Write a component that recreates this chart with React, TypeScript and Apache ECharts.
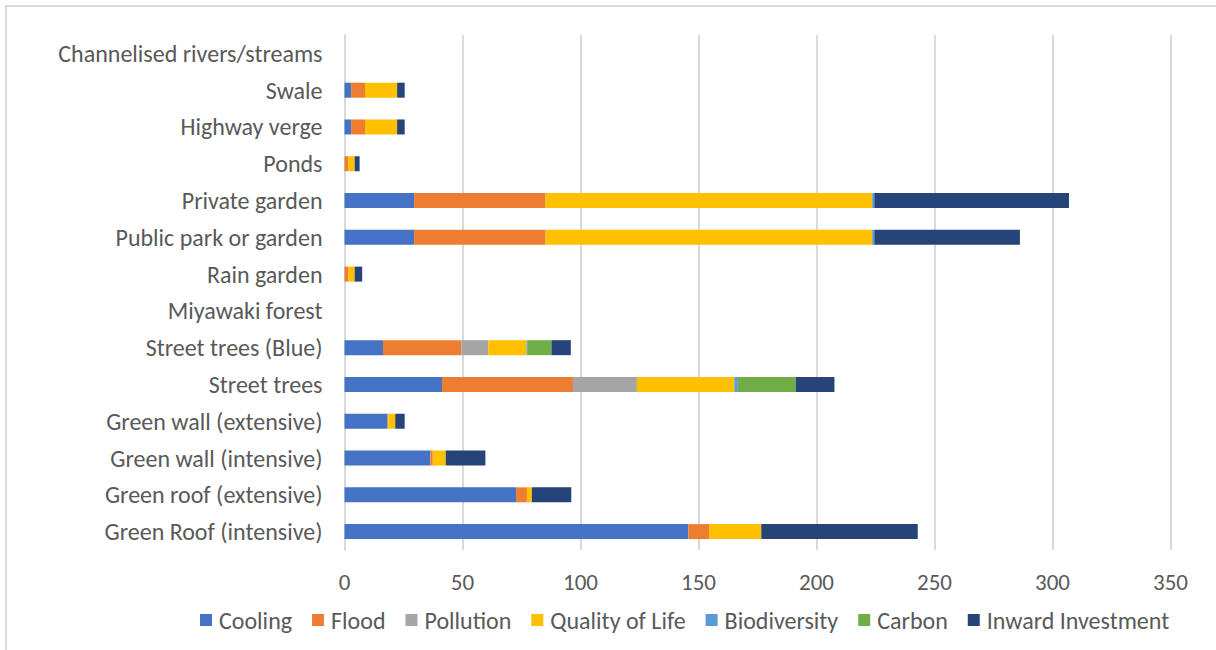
import React, { useEffect, useRef } from "react";
import * as echarts from "echarts";

// Categories listed bottom-to-top as they appear on the value axis chart
const categories = [
  "Green Roof (intensive)",
  "Green roof (extensive)",
  "Green wall (intensive)",
  "Green wall (extensive)",
  "Street trees",
  "Street trees (Blue)",
  "Miyawaki forest",
  "Rain garden",
  "Public park or garden",
  "Private garden",
  "Ponds",
  "Highway verge",
  "Swale",
  "Channelised rivers/streams",
];

const cooling = [145.7, 72.7, 36.4, 18.2, 41.3, 16.3, 0, 0, 29.5, 29.5, 0, 2.8, 2.8, 0];
const flood = [8.8, 4.6, 1.0, 0.4, 55.5, 33.2, 0, 1.6, 55.7, 55.7, 1.6, 5.9, 5.9, 0];
const pollution = [0, 0, 0, 0, 27.1, 11.4, 0, 0, 0, 0, 0, 0, 0, 0];
const qualityOfLife = [22.1, 2.1, 5.5, 2.9, 41.3, 16.2, 0, 2.7, 138.4, 138.4, 2.7, 13.6, 13.6, 0];
const biodiversity = [0, 0, 0, 0, 1.5, 0.3, 0, 0, 0.9, 0.9, 0, 0, 0, 0];
const carbon = [0, 0, 0, 0, 24.5, 10.3, 0, 0, 0, 0, 0, 0, 0, 0];
const inwardInvestment = [66.3, 16.7, 16.8, 4.0, 16.4, 8.2, 0, 3.2, 61.7, 82.5, 2.1, 3.2, 3.2, 0];

const seriesDefs = [
  { name: "Cooling", data: cooling, color: "#4472C4" },
  { name: "Flood", data: flood, color: "#ED7D31" },
  { name: "Pollution", data: pollution, color: "#A5A5A5" },
  { name: "Quality of Life", data: qualityOfLife, color: "#FFC000" },
  { name: "Biodiversity", data: biodiversity, color: "#5B9BD5" },
  { name: "Carbon", data: carbon, color: "#70AD47" },
  { name: "Inward Investment", data: inwardInvestment, color: "#264478" },
];

const xTicks = { min: 0, max: 350, interval: 50 };

const FONT = "Carlito, Calibri, 'Open Sans', sans-serif";

export default function App() {
  const ref = useRef<HTMLDivElement>(null);

  useEffect(() => {
    if (!ref.current) return;
    const chart = echarts.init(ref.current, undefined, { renderer: "svg" });
    chart.setOption({
      animation: false,
      backgroundColor: "#ffffff",
      textStyle: { fontFamily: FONT },
      graphic: [
        {
          type: "rect",
          shape: { x: 6, y: 6, width: 1240, height: 680 },
          style: { fill: "none", stroke: "#d9d9d9", lineWidth: 2 },
          silent: true,
        },
      ],
      grid: { left: 344.5, right: 45.5, top: 35, bottom: 100, containLabel: false },
      legend: {
        bottom: 13,
        left: 195,
        itemWidth: 12,
        itemHeight: 12,
        itemGap: 20,
        icon: "rect",
        textStyle: { color: "#595959", fontSize: 24, fontFamily: FONT, padding: [0, 0, 0, 2] },
        data: seriesDefs.map((s) => s.name),
      },
      xAxis: {
        type: "value",
        min: xTicks.min,
        max: xTicks.max,
        interval: xTicks.interval,
        axisLine: { show: false },
        axisTick: { show: false },
        splitLine: { lineStyle: { color: "#d9d9d9", width: 2 } },
        axisLabel: { color: "#595959", fontSize: 23, margin: 20, fontFamily: FONT },
      },
      yAxis: {
        type: "category",
        data: categories,
        axisLine: { show: true, lineStyle: { color: "#d9d9d9", width: 2 } },
        axisTick: { show: false },
        axisLabel: { color: "#595959", fontSize: 24, margin: 22, fontFamily: FONT },
      },
      series: seriesDefs.map((s) => ({
        name: s.name,
        type: "bar",
        stack: "total",
        barWidth: 15,
        data: s.data,
        itemStyle: { color: s.color },
        emphasis: { disabled: true },
      })),
    });
    return () => chart.dispose();
  }, []);

  return (
    <div
      ref={ref}
      style={{ position: "absolute", left: 0, top: 0, width: 1216, height: 650 }}
    />
  );
}
